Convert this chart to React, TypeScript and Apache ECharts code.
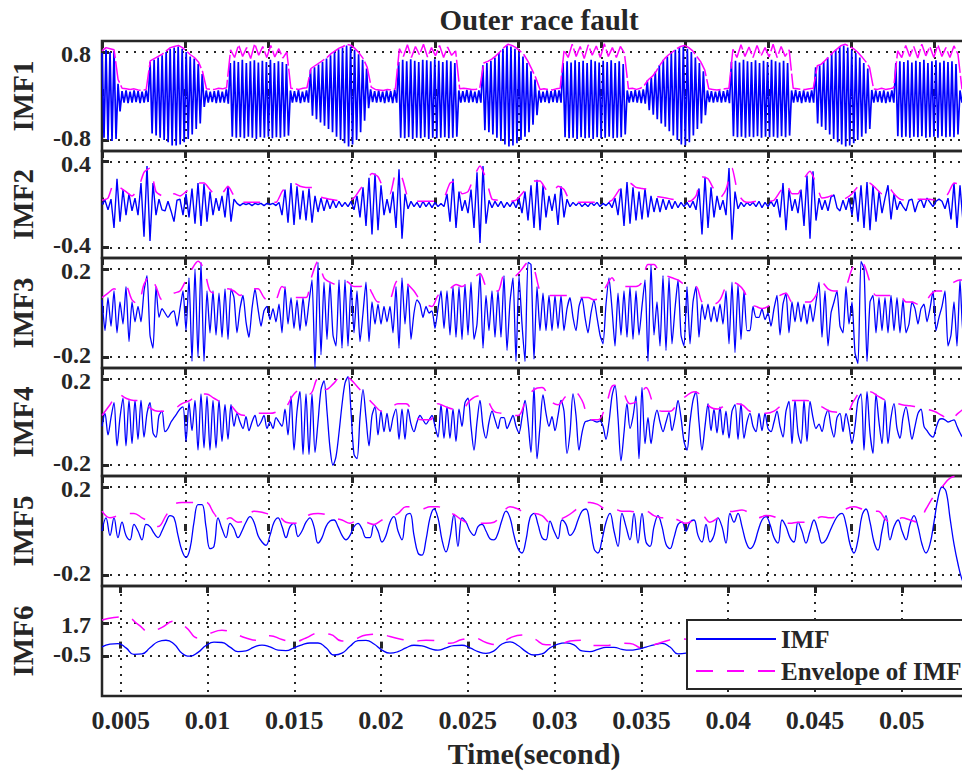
import React, { useEffect, useRef } from 'react';
import * as echarts from 'echarts';

// ---------- texts ----------
const TITLE = 'Outer race fault';
const X_NAME = 'Time(second)';
const PANEL_NAMES = ['IMF1', 'IMF2', 'IMF3', 'IMF4', 'IMF5', 'IMF6'];
const SIGNAL_NAME = 'IMF';
const ENVELOPE_NAME = 'Envelope of IMF';

// ---------- axes ----------
const T_START = 0.00392;
const T_END = 0.0537;
const TIME_TICKS = [0.005, 0.01, 0.015, 0.02, 0.025, 0.03, 0.035, 0.04, 0.045, 0.05];
const UPPER_TICK_STEP = 0.0047966;
const Y_MIN = [-1, -0.5, -0.25, -0.25, -0.25, -3.12];
const Y_MAX = [1, 0.5, 0.25, 0.25, 0.25, 4.12];
const Y_TICKS = [[-0.8, 0.8], [-0.4, 0.4], [-0.2, 0.2], [-0.2, 0.2], [-0.2, 0.2], [-0.5, 1.7]];

// ---------- data (evenly sampled from T_START to T_END) ----------
const imf1Peaks = [.78,.84,.8,.82,.22,
.09,.1,.08,.1,.09,.08,.1,
.62,.66,.7,.74,.8,.86,.88,.9,.86,.8,.72,.68,.58,.4,
.1,.08,.09,.1,.08,.12,
.6,.64,.62,.66,.6,.63,.65,.61,.64,.62,.66,.6,.63,.62,.58,
.1,.09,.11,.08,.1,
.48,.52,.57,.62,.68,.74,.8,.85,.88,.92,.9,.84,.76,.66,.5,
.12,.09,.1,.08,.1,.09,.11,
.62,.66,.63,.67,.64,.62,.66,.65,.63,.67,.64,.62,.65,.63,.6,
.1,.09,.11,.1,.08,.1,
.56,.6,.64,.7,.78,.86,.92,.9,.86,.8,.72,.6,.45,.3,
.1,.08,.1,.09,.11,.1,
.6,.63,.61,.65,.62,.64,.6,.66,.63,.61,.64,.62,.65,.6,.63,.58,
.1,.09,.11,.1,.12,
.28,.34,.44,.56,.66,.72,.78,.84,.88,.9,.86,.8,.7,.6,.45,
.1,.09,.08,.1,.09,.11,
.62,.64,.61,.66,.63,.62,.65,.6,.64,.62,.66,.63,.61,.64,.6,
.1,.11,.09,.1,.08,.1,
.52,.56,.62,.7,.78,.84,.9,.92,.88,.84,.78,.7,.6,.5,
.11,.1,.09,.1,.08,.1,
.6,.63,.62,.65,.61,.64,.62,.66,.6,.63,.65,.61,.64,.62,.63,.58,
.1,.09];

const imf1Troughs = [-.76,-.8,-.82,-.78,-.28,
-.12,-.13,-.12,-.11,-.13,-.12,-.11,
-.68,-.72,-.76,-.8,-.84,-.9,-.9,-.88,-.84,-.78,-.7,-.6,-.5,-.2,
-.12,-.11,-.13,-.12,-.12,-.14,
-.74,-.76,-.75,-.77,-.74,-.76,-.78,-.75,-.76,-.74,-.77,-.75,-.76,-.74,-.72,
-.12,-.11,-.13,-.11,-.12,
-.36,-.42,-.48,-.54,-.6,-.66,-.74,-.8,-.86,-.92,-.88,-.8,-.66,-.45,-.22,
-.11,-.12,-.11,-.13,-.11,-.13,-.12,
-.76,-.77,-.75,-.78,-.76,-.77,-.75,-.78,-.76,-.77,-.76,-.75,-.77,-.76,-.74,
-.12,-.11,-.12,-.11,-.13,-.12,
-.62,-.66,-.7,-.76,-.82,-.88,-.92,-.9,-.86,-.8,-.74,-.66,-.52,-.35,
-.12,-.11,-.13,-.11,-.12,-.12,
-.75,-.77,-.76,-.78,-.75,-.77,-.76,-.78,-.75,-.77,-.76,-.74,-.77,-.76,-.75,-.7,
-.12,-.11,-.12,-.13,-.14,
-.26,-.34,-.42,-.5,-.56,-.64,-.72,-.8,-.88,-.9,-.84,-.72,-.6,-.5,-.35,
-.11,-.12,-.11,-.12,-.11,-.13,
-.73,-.75,-.74,-.76,-.74,-.75,-.73,-.76,-.74,-.75,-.74,-.76,-.73,-.75,-.72,
-.12,-.11,-.13,-.11,-.12,-.12,
-.5,-.56,-.62,-.7,-.78,-.84,-.88,-.92,-.9,-.86,-.8,-.74,-.68,-.6,
-.12,-.11,-.12,-.13,-.11,-.12,
-.73,-.75,-.74,-.76,-.74,-.75,-.73,-.76,-.75,-.74,-.76,-.73,-.75,-.74,-.75,-.7,
-.12,-.11];

const imf1Env = [.82,.88,.86,.84,.3,
.14,.13,.12,.13,.11,.1,.12,
.64,.68,.72,.76,.82,.88,.9,.92,.88,.82,.75,.7,.62,.45,
.13,.12,.12,.14,.13,.15,
.84,.7,.93,.72,.88,.68,.95,.74,.9,.7,.92,.71,.86,.69,.8,
.14,.13,.12,.14,.15,
.5,.55,.6,.65,.7,.77,.82,.87,.9,.94,.92,.86,.78,.68,.52,
.16,.12,.11,.1,.12,.11,.13,
.86,.72,.93,.7,.9,.75,.94,.71,.88,.73,.92,.7,.89,.74,.82,
.13,.14,.13,.12,.12,.14,
.6,.63,.67,.73,.8,.88,.94,.92,.88,.82,.75,.63,.48,.32,
.12,.13,.12,.11,.13,.14,
.84,.7,.94,.72,.9,.68,.93,.74,.91,.7,.95,.72,.88,.7,.9,.78,
.13,.14,.12,.14,.2,
.3,.36,.46,.58,.68,.75,.8,.86,.9,.92,.88,.82,.72,.62,.47,
.13,.12,.11,.12,.13,.14,
.85,.7,.93,.72,.89,.7,.92,.73,.88,.71,.94,.7,.9,.72,.84,
.14,.13,.12,.12,.13,.14,
.55,.58,.65,.72,.8,.86,.92,.94,.9,.86,.8,.72,.63,.52,
.13,.12,.14,.12,.13,.15,
.82,.7,.92,.72,.9,.69,.94,.73,.9,.7,.93,.72,.88,.7,.91,.76,
.13,.12];

const imf2 = [0,.04,-.05,.05,-.22,.24,-.16,.14,-.1,.1,
-.06,.06,-.1,.2,-.3,.36,-.34,.2,-.1,.05,
-.05,-.06,.03,-.06,-.16,.04,.05,-.1,.1,-.12,
.15,-.18,.2,-.2,.19,-.16,.12,-.1,.06,-.06,
.08,-.12,.17,-.16,.05,.01,-.01,.01,0,.01,
-.01,.01,0,.01,-.01,.01,0,.01,-.01,.02,
-.1,.14,-.17,.2,-.19,.17,-.14,.13,-.15,.15,
-.17,.08,-.07,.06,-.06,.05,-.04,.04,-.03,.03,
-.02,.02,-.02,.03,-.05,.08,-.12,.16,-.2,.25,
-.28,.29,-.24,.18,-.1,.05,-.08,.12,-.22,.33,
-.32,.1,-.04,.03,-.02,.02,-.03,.03,-.02,.02,
-.03,.02,-.02,.01,-.02,.1,-.16,.24,-.22,.12,
-.06,.04,-.08,.14,-.22,.3,-.36,.36,-.18,.04,
-.03,.03,-.02,.03,-.03,.02,-.02,.03,-.03,.05,
-.08,.12,-.15,.18,-.22,.23,-.24,.18,-.12,.08,
-.06,.1,-.19,.17,-.12,.05,-.02,.02,-.01,.02,
-.02,.01,-.02,.02,-.01,.02,-.02,.01,-.01,.02,
-.03,.06,-.1,.15,-.2,.21,-.18,.16,-.15,.12,
-.14,.15,-.12,.08,-.07,.06,-.07,.05,-.05,.04,
-.04,.03,-.03,.02,-.02,.02,-.03,.03,-.05,.15,
-.28,.26,-.22,.16,-.12,.08,-.05,.04,-.1,.34,
-.33,.12,-.04,.02,-.02,.02,-.01,.02,-.02,.03,
-.03,.02,-.02,.03,-.02,.05,-.12,.2,-.24,.14,
-.06,.05,-.08,.14,-.2,.27,-.32,.31,-.15,.06,
-.05,.04,-.06,.07,.09,-.03,-.06,.04,-.05,.06,
-.1,.12,-.16,.18,-.22,.21,-.24,.18,-.16,.12,
-.08,.06,.18,-.14,.1,-.05,.03,-.02,-.06,.04,
.05,-.07,.02,.05,-.03,.06,.02,-.02,.03,.05,
.03,-.04,.06,-.14,.2,-.22,.18,-.16,.12];

const imf2Env = [.04,.06,.2,.16,.12,.08,.14,.3,.34,.12,
.08,.06,.1,.08,.12,.17,.2,.2,.14,.08,
.1,.17,.08,.02,.02,.02,.02,.02,.02,.02,
.12,.18,.2,.17,.16,.16,.08,.06,.05,.04,
.03,.03,.06,.14,.22,.29,.26,.14,.1,.3,
.25,.06,.03,.03,.03,.03,.03,.06,.2,.22,
.1,.12,.26,.36,.24,.05,.04,.03,.03,.04,
.1,.17,.22,.22,.14,.1,.17,.14,.03,.02,
.02,.02,.02,.02,.02,.04,.12,.2,.2,.16,
.15,.14,.08,.07,.06,.05,.04,.03,.03,.08,
.26,.24,.14,.06,.14,.34,.1,.03,.02,.03,
.03,.03,.04,.12,.2,.1,.1,.24,.31,.2,
.06,.07,.09,.05,.06,.1,.17,.21,.2,.15,
.1,.17,.1,.05,.04,.05,.05,.05,.05,.04,
.05,.1,.2,.19,.15];

const imf3 = [.06,-.08,.07,-.06,.1,-.09,.05,-.05,.12,-.13,
.05,-.04,.03,-.04,.1,.17,-.1,-.16,.12,-.02,
.02,0,-.02,0,.01,-.06,.02,.1,-.08,.16,
-.22,.2,-.2,.23,-.22,.1,-.09,.1,-.1,.09,
-.11,.11,-.12,.11,.07,-.09,.02,.08,-.04,-.11,
.02,.11,.02,-.06,.01,.03,-.03,.02,-.04,.04,
-.09,.12,-.05,.07,-.07,.06,-.08,.07,-.06,.05,
.15,-.25,.23,-.19,.14,-.12,.14,-.1,-.15,.15,
-.16,.15,-.15,.13,-.09,.1,-.13,0,.14,-.13,
.05,-.05,.04,-.05,.03,-.04,.03,-.09,.12,-.16,
.16,-.05,.13,-.12,0,.06,.04,-.02,.03,0,
.01,-.07,.02,.1,-.07,.1,-.1,.12,-.11,.12,
-.12,.13,-.1,.14,-.12,-.05,.18,-.16,.08,-.08,
.1,-.11,.1,-.11,.17,-.17,.05,.16,-.22,.17,
-.05,-.22,.23,.22,-.21,.12,-.08,.09,-.08,.08,
-.08,.08,-.07,.08,-.08,.02,.07,-.02,-.08,.03,
.07,-.02,-.09,0,.06,-.02,-.1,-.14,.04,.16,
.02,-.15,.09,-.1,.1,-.11,.12,-.12,.1,-.1,
.03,.15,-.22,.22,-.1,.05,-.15,.17,-.17,.16,
-.14,.02,.15,-.1,-.15,.12,-.14,.05,.12,-.11,
.04,-.03,.04,-.04,.03,-.04,.04,-.05,.1,-.14,
.14,-.18,.13,-.12,.1,-.08,-.08,.03,-.02,-.02,
.02,-.03,0,-.06,.02,.08,-.1,.04,.09,-.09,
.05,-.04,.05,-.04,.04,-.05,.04,-.04,.05,.14,
-.11,.1,-.15,0,.05,.1,-.06,-.09,.12,-.05,
.05,-.18,-.23,.235,.2,-.22,.05,.08,-.09,.07,
-.08,.07,-.09,.08,-.08,.07,-.09,.06,-.09,-.05,
.05,.02,-.05,.02,.04,-.04,.02,.1,-.08,-.02,
.03,.1,-.15,-.1,.05,-.15,.15,-.1,.05];

const imf3Env = [.07,.09,.11,.1,.12,.06,.04,.13,.17,.12,
.06,.07,.09,.1,.15,.2,.235,.2,.1,.09,
.1,.11,.1,.08,.1,.11,.11,.07,.05,.06,
.12,.1,.07,.07,.07,.17,.235,.16,.14,.13,
.15,.14,.12,.12,.14,.09,.05,.05,.06,.14,
.16,.13,.1,.06,.04,.03,.08,.09,.11,.13,
.12,.14,.16,.18,.12,.1,.1,.17,.16,.17,
.2,.23,.2,.1,.08,.08,.08,.08,.08,.07,
.07,.07,.06,.07,.12,.16,.12,.12,.12,.12,
.14,.22,.22,.18,.17,.16,.15,.13,.12,.12,
.05,.04,.04,.06,.12,.14,.13,.1,.04,.03,
.02,.03,.06,.08,.09,.05,.05,.05,.05,.08,
.14,.11,.1,.1,.12,.2,.235,.22,.14,.08,
.08,.08,.08,.08,.05,.05,.04,.04,.08,.1,
.1,.12,.14,.15,.15];

const imf4 = [-.02,.04,-.06,.02,.09,-.11,.02,.11,-.11,.1,
-.1,.1,-.08,.1,-.07,.04,.09,-.05,-.07,.03,
.05,-.045,-.03,0,.02,.04,.06,.07,-.09,.09,
-.04,.1,-.13,.13,-.12,.12,-.13,.1,-.12,.1,
-.09,.08,-.08,.08,-.02,.04,0,-.03,.025,-.04,
0,.03,-.02,0,.03,-.03,0,-.03,.02,0,
-.02,.06,-.06,.12,-.13,.05,.14,-.15,.13,-.15,
.13,-.14,0,.15,.19,.05,-.12,-.2,-.16,-.05,
.08,.18,.21,.05,-.15,-.17,.02,.15,.02,-.11,
.03,.07,-.06,.05,-.045,.04,-.045,.02,.06,-.08,
.06,-.08,.06,-.01,-.045,0,.03,.01,-.01,.01,
.03,-.02,-.07,.08,-.075,.07,-.075,.06,-.09,.06,
-.02,.09,.11,-.02,-.13,0,.1,-.02,-.075,0,
.05,.01,-.03,.02,.02,-.03,0,.03,-.02,-.05,
.02,.1,0,-.14,.16,-.17,-.02,.125,.04,-.02,
.025,-.04,.03,.1,.05,-.145,-.05,.13,.03,-.13,
-.05,0,.005,.01,.005,0,.005,-.02,-.08,0,
.12,.17,.02,-.18,-.05,.085,-.03,.025,.12,-.17,
.16,-.1,.02,-.1,0,.055,0,-.045,0,.045,
-.04,.02,.1,.02,-.09,-.13,0,.1,.14,0,
-.13,-.02,.085,-.04,.06,-.05,.07,-.06,.05,-.075,
.05,.08,-.08,.085,-.075,0,.04,-.02,-.045,.04,
-.04,.04,-.03,-.045,0,.05,-.02,-.07,.05,.095,
-.1,.1,-.05,-.1,.1,-.09,.095,.02,-.03,-.01,
-.045,.02,.055,-.02,-.07,.02,.04,-.045,.04,-.02,
-.1,-.02,.1,.13,-.13,.14,-.05,-.145,.13,0,
-.1,.1,-.1,.02,.085,-.03,-.075,.02,.07,0,
-.08,-.02,.04,.06,-.02,-.04,-.06,-.07,-.03,.01,
.015,.01,0,.005,.01,-.02,-.05,-.07,-.06];

const imf4Env = [.03,.08,.13,.11,.1,.1,.065,.05,.05,.06,
.085,.1,.13,.13,.11,.09,.08,.04,.03,.04,
.04,.04,.05,.07,.13,.15,.13,.2,.15,.18,
.22,.2,.16,.12,.08,.05,.06,.085,.085,.03,
.01,.01,.085,.07,.06,.06,.1,.12,.11,.05,
.04,.03,.03,.1,.15,.16,.1,.08,.12,.14,
.1,.01,.01,.08,.17,.15,.085,.1,.16,.08,
.05,.05,.09,.12,.14,.12,.07,.06,.08,.085,
.08,.05,.045,.04,.05,.08,.1,.1,.1,.09,
.07,.05,.045,.04,.1,.14,.14,.12,.1,.09,
.08,.075,.07,.06,.05,.03,.01,.04,.07];

const imf5 = [0,.06,-.02,.06,-.03,.04,-.02,-.04,.03,0,
-.04,.03,.02,-.01,-.03,0,.04,.07,.06,-.02,
-.09,-.12,-.08,.04,.12,.12,.02,-.08,-.07,.06,
.01,-.03,.035,.01,-.03,0,.04,.065,.04,-.02,
-.05,-.065,-.02,.04,.06,.02,-.03,.02,.035,-.025,
0,.04,.06,.02,-.055,-.03,.02,.045,.05,.02,
-.02,-.04,-.02,.02,.035,.01,-.03,-.03,.03,0,
-.05,-.02,.04,.065,0,-.04,.07,.08,-.02,-.1,
-.11,-.04,.06,.1,.06,-.04,-.095,-.03,.075,-.07,
.06,.04,0,-.02,.02,.03,0,-.035,-.04,-.01,
.05,.09,.06,-.02,-.08,-.1,-.04,.06,.08,.03,
-.03,-.04,.045,0,-.035,.05,.03,-.02,0,.05,
.09,.1,.03,-.08,-.1,-.04,.04,.08,0,-.07,
.08,.02,-.04,.08,-.055,.08,-.05,-.07,.02,.07,
.02,-.06,-.08,-.03,.03,.04,0,.04,.05,-.02,
-.05,.03,-.05,-.02,.06,.02,-.055,.08,.04,.08,
.02,-.05,-.08,-.06,0,.05,.065,.03,-.03,-.055,
.05,.02,-.03,-.05,.04,0,-.055,0,.05,0,
-.055,-.04,0,.04,.07,.08,.03,-.06,-.1,-.04,
.07,.1,.04,-.05,-.087,0,.07,-.04,.02,.05,
0,-.04,.03,.07,.02,-.06,-.1,-.06,.04,.15,
.2,.18,.06,-.06,-.15,-.22,-.25];

const imf5Env = [.09,.06,.07,.08,.08,.06,.04,.02,.07,.12,
.13,.13,.13,.13,.08,.04,.06,.04,.05,.09,
.085,.075,.07,.04,.035,.05,.075,.08,.075,.06,
.05,.035,.05,.04,.03,.05,.065,.08,.11,.11,
.1,.11,.11,.09,.075,.05,.035,.035,.035,.04,
.08,.11,.1,.08,.08,.07,.04,.05,.065,.09,
.12,.13,.12,.1,.1,.09,.09,.085,.09,.07,
.06,.065,.05,.035,.05,.07,.04,.06,.085,.09,
.095,.08,.06,.07,.065,.04,.035,.04,.04,.05,
.065,.06,.07,.1,.11,.1,.09,.09,.05,.035,
.06,.05,.04,.1,.16,.2,.24,.25,.25];

const imf6 = [.11,.3,.33,.05,-.38,-.35,.05,.45,.55,.3,
-.3,-.5,-.25,.2,.42,.4,.1,-.2,-.15,.1,
.23,.12,-.1,-.13,.05,.25,.37,.37,.05,-.42,
-.3,.15,.52,.54,.3,-.1,-.3,-.2,.05,.22,
.18,0,-.1,.05,.2,.22,.05,-.2,-.32,-.15,
.3,.44,.2,-.2,-.42,-.35,.05,.3,.38,.25,
-.15,-.2,-.05,.08,.08,-.05,-.1,-.03,.1,.25,
.34,.1,-.35,-.3,0,.3,.4,.2,-.2,-.35,
-.1,.2,.3,.1,-.2,-.3,-.1,.2,.35,.2,
-.1,-.3,-.2,.1,.3,.25,-.05,-.25,-.15,.1,
.25,.15,-.1,-.2,0,.2,.3,.15,-.05];

const imf6Env = [1.88,2.05,2.1,1.6,1.1,1.4,1.8,1.4,.7,1.0,
1.2,1.0,.7,.55,.85,.6,.45,.7,1.0,.95,
.5,.6,.9,.95,.8,.6,.5,.55,.5,.35,
.6,.7,.4,.25,.7,.9,.65,.25,.25,.5,
.55,.2,.2,.35,.34,.05,.25,.5,.65,.6,
.5,.55,.6,.5,.4,.55,.6,.5,.45,.55,
.6,.5,.4,.5,.55,.45,.4,.5,.5,.4,
.45,.5,.45];

// ---------- layout & style ----------
const PANEL_TOP = [41, 151, 258, 368, 476, 586];
const PANEL_HEIGHT = [110, 107, 110, 108, 110, 110];
const PLOT_LEFT = 102;
const PLOT_WIDTH = 864;
const SIGNAL_SMOOTH = [false, false, 0.2, 0.3, 0.4, 0.5];
const ENV_SMOOTH = [false, 0.2, 0.3, 0.4, 0.4, 0.5];
const SIGNAL_WIDTH = [1.7, 1.4, 1.3, 1.3, 1.3, 1.3];
const ENV_DASH = [[22, 3], [17, 14], [17, 14], [17, 14], [17, 14], [17, 14]];
const INK = '#262626';
const BLUE = '#0000ff';
const MAGENTA = '#ff00ff';
const FONT = '"Liberation Serif", "Times New Roman", serif';

function interleave(a: number[], b: number[]): number[] {
  const out: number[] = [];
  const n = Math.min(a.length, b.length);
  for (let i = 0; i < n; i++) out.push(a[i], b[i]);
  return out;
}

function spread(values: number[]): [number, number][] {
  const n = values.length;
  return values.map((v, i) => [T_START + ((T_END - T_START) * i) / (n - 1), v]);
}

const fmt = (v: number) => String(Number(Number(v).toFixed(4)));

function buildOption() {
  const signals = [interleave(imf1Peaks, imf1Troughs), imf2, imf3, imf4, imf5, imf6];
  const envelopes = [imf1Env, imf2Env, imf3Env, imf4Env, imf5Env, imf6Env];
  const dotted = { color: INK, width: 2, type: [2, 6] as number[] };
  const tickStyle = { color: INK, width: 3 };
  const yLabelFont = { fontFamily: FONT, fontWeight: 'bold', fontSize: 24, color: INK };

  const grid: any[] = [];
  const xAxis: any[] = [];
  const yAxis: any[] = [];
  const series: any[] = [];

  for (let i = 0; i < 6; i++) {
    const last = i === 5;
    const upper = Y_TICKS[i][1];
    grid.push({
      left: PLOT_LEFT,
      top: PANEL_TOP[i],
      width: PLOT_WIDTH,
      height: PANEL_HEIGHT[i],
      show: true,
      borderColor: INK,
      borderWidth: 2.5,
      backgroundColor: 'rgba(0,0,0,0)',
      containLabel: false,
      outerBoundsMode: 'none',
    });
    const common: any = {
      type: 'value',
      gridIndex: i,
      min: T_START,
      max: T_END,
      axisLine: { show: false },
    };
    if (!last) common.interval = UPPER_TICK_STEP;
    xAxis.push({
      ...common,
      position: 'bottom',
      axisTick: {
        show: true,
        inside: true,
        length: 7,
        lineStyle: tickStyle,
        ...(last ? { customValues: TIME_TICKS } : {}),
      },
      axisLabel: last
        ? {
            show: true,
            customValues: TIME_TICKS,
            formatter: fmt,
            margin: 13,
            fontFamily: FONT,
            fontWeight: 'bold',
            fontSize: 26,
            lineHeight: 22,
            color: INK,
          }
        : { show: false },
      splitLine: { show: true, lineStyle: dotted },
      name: last ? X_NAME : '',
      nameLocation: 'middle',
      nameGap: 42,
      nameMoveOverlap: false,
      nameTextStyle: { fontFamily: FONT, fontWeight: 'bold', fontSize: 30, color: INK },
    });
    xAxis.push({
      ...common,
      position: 'top',
      axisTick: {
        show: true,
        inside: true,
        length: 7,
        lineStyle: tickStyle,
        ...(last ? { customValues: TIME_TICKS } : {}),
      },
      axisLabel: { show: false },
      splitLine: { show: false },
    });
    yAxis.push({
      type: 'value',
      gridIndex: i,
      min: Y_MIN[i],
      max: Y_MAX[i],
      axisLine: { show: false },
      axisTick: { show: true, inside: true, length: 7, lineStyle: tickStyle, customValues: Y_TICKS[i] },
      axisLabel: {
        show: true,
        customValues: Y_TICKS[i],
        formatter: (v: number) => (Math.abs(v - upper) < 1e-9 ? `{hi|${fmt(v)}}` : `{lo|${fmt(v)}}`),
        margin: 11,
        ...yLabelFont,
        lineHeight: 18,
        rich: {
          hi: { ...yLabelFont, lineHeight: 18, padding: [4, 0, 0, 0] },
          lo: { ...yLabelFont, lineHeight: 18, padding: [0, 0, 4, 0] },
        },
      },
      splitLine: { show: true, lineStyle: dotted },
      name: PANEL_NAMES[i],
      nameLocation: 'middle',
      nameGap: 65,
      nameMoveOverlap: false,
      nameTextStyle: { fontFamily: FONT, fontWeight: 'bold', fontSize: 29, color: INK },
    });
  }

  // panels added last-to-first so that the legend samples the IMF6 line styles
  for (let i = 5; i >= 0; i--) {
    series.push({
      type: 'line',
      name: SIGNAL_NAME,
      xAxisIndex: 2 * i,
      yAxisIndex: i,
      data: spread(signals[i]),
      showSymbol: false,
      symbol: 'none',
      smooth: SIGNAL_SMOOTH[i],
      lineStyle: { color: BLUE, width: SIGNAL_WIDTH[i] },
      itemStyle: { color: BLUE },
      silent: true,
      z: 2,
    });
    series.push({
      type: 'line',
      name: ENVELOPE_NAME,
      xAxisIndex: 2 * i,
      yAxisIndex: i,
      data: spread(envelopes[i]),
      showSymbol: false,
      symbol: 'none',
      smooth: ENV_SMOOTH[i],
      lineStyle: { color: MAGENTA, width: 1.5, type: ENV_DASH[i] },
      itemStyle: { color: MAGENTA },
      silent: true,
      z: 3,
    });
  }

  return {
    animation: false,
    backgroundColor: '#ffffff',
    title: {
      text: TITLE,
      left: 534,
      top: 0,
      textAlign: 'center',
      padding: 5,
      textStyle: { fontFamily: FONT, fontWeight: 'bold', fontSize: 29, color: INK },
    },
    legend: {
      data: [SIGNAL_NAME, ENVELOPE_NAME],
      orient: 'vertical',
      left: 687,
      top: 620,
      itemWidth: 80,
      itemHeight: 14,
      itemGap: 2,
      padding: [4, 10, 3, 8],
      backgroundColor: '#ffffff',
      borderColor: INK,
      borderWidth: 2,
      borderRadius: 0,
      selectedMode: false,
      itemStyle: { opacity: 0 },
      textStyle: { fontFamily: FONT, fontWeight: 'bold', fontSize: 25, color: INK, lineHeight: 30 },
      z: 10,
    },
    grid,
    xAxis,
    yAxis,
    series,
  };
}

export default function App() {
  const ref = useRef<HTMLDivElement>(null);
  useEffect(() => {
    if (!ref.current) return;
    const chart = echarts.init(ref.current, null, { renderer: 'svg' });
    chart.setOption(buildOption() as any);
    return () => chart.dispose();
  }, []);
  return (
    <div
      ref={ref}
      style={{ position: 'fixed', left: 0, top: 0, width: 962, height: 778, background: '#ffffff' }}
    />
  );
}
